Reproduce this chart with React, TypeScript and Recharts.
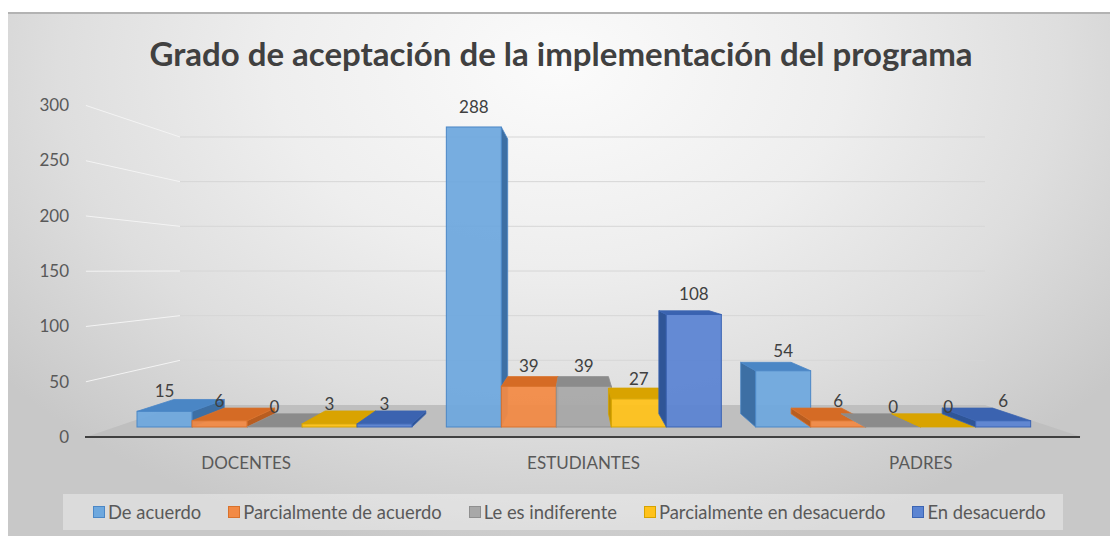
import {
  BarChart,
  Bar,
  XAxis,
  YAxis,
  CartesianGrid,
  LabelList,
  Legend,
} from "recharts";

const categories = ["DOCENTES", "ESTUDIANTES", "PADRES"];
const deAcuerdo = [15, 288, 54];
const parcialmenteDeAcuerdo = [6, 39, 6];
const indiferente = [0, 39, 0];
const parcialmenteEnDesacuerdo = [3, 27, 0];
const enDesacuerdo = [3, 108, 6];
const yTicks = [0, 50, 100, 150, 200, 250, 300];

const FONT = "Lato, 'Noto Sans', sans-serif";
const TEXT = "#595959";

const SERIES = [
  { key: "deAcuerdo", name: "De acuerdo", values: deAcuerdo, front: "#6ea8de", top: "#4a86c5", side: "#3d6fa4", stroke: "#4b87c6" },
  { key: "parcAcuerdo", name: "Parcialmente de acuerdo", values: parcialmenteDeAcuerdo, front: "#f28a45", top: "#d56b25", side: "#b85d20", stroke: "#d9722c" },
  { key: "indiferente", name: "Le es indiferente", values: indiferente, front: "#a8a8a8", top: "#8b8b8b", side: "#7a7a7a", stroke: "#8f8f8f" },
  { key: "parcDesacuerdo", name: "Parcialmente en desacuerdo", values: parcialmenteEnDesacuerdo, front: "#ffc21c", top: "#d9a300", side: "#bf9000", stroke: "#d6a300" },
  { key: "desacuerdo", name: "En desacuerdo", values: enDesacuerdo, front: "#5b84d2", top: "#3b63b0", side: "#2f5597", stroke: "#3b64b3" },
];

const data = categories.map((name, i) => {
  const row: Record<string, string | number> = { name };
  SERIES.forEach((s) => (row[s.key] = s.values[i]));
  return row;
});

// perspective: vanishing point, depth of a box's back face, and front/back wall ratio
const VP = { x: 577, y: 270 };
const DEPTH = 0.916;
const WALL = 1.237;

const pts = (arr: number[][]) => arr.map((p) => p.join(",")).join(" ");

function Box3D(props: any) {
  const { x, y, width, height, s } = props;
  if (x == null || y == null) return null;
  const x0 = x;
  const x1 = x + width;
  const yt = y;
  const yb = y + height;
  const bx = (v: number) => VP.x + DEPTH * (v - VP.x);
  const by = (v: number) => VP.y + DEPTH * (v - VP.y);
  const bx0 = bx(x0);
  const bx1 = bx(x1);
  const byt = by(yt);
  const byb = by(yb);
  return (
    <g>
      {bx1 > x1 && (
        <polygon points={pts([[x1, yt], [bx1, byt], [bx1, byb], [x1, yb]])} fill={s.side} stroke={s.stroke} strokeWidth={0.8} />
      )}
      {bx0 < x0 && (
        <polygon points={pts([[x0, yt], [bx0, byt], [bx0, byb], [x0, yb]])} fill={s.side} stroke={s.stroke} strokeWidth={0.8} />
      )}
      {byt < yt && (
        <polygon points={pts([[x0, yt], [x1, yt], [bx1, byt], [bx0, byt]])} fill={s.top} stroke={s.stroke} strokeWidth={0.8} />
      )}
      <rect x={x0} y={yt} width={width} height={Math.max(height, 0)} fill={s.front} fillOpacity={0.94} stroke={s.stroke} strokeWidth={1} />
    </g>
  );
}

// back-wall gridline, its side-wall continuation, and the floor under the lowest one
function WallLine(props: any) {
  const { x1, y1, x2, index } = props;
  if (x1 == null || y1 == null) return null;
  const fx = (v: number) => VP.x + (v - VP.x) * WALL;
  const fy = (v: number) => VP.y + (v - VP.y) * WALL;
  if (index === 0) {
    return (
      <polygon points={pts([[fx(x1), fy(y1)], [fx(x2), fy(y1)], [x2, y1], [x1, y1]])} fill="#bfbfbf" />
    );
  }
  return (
    <g>
      <line x1={fx(x1)} y1={fy(y1)} x2={x1} y2={y1} stroke="#f4f4f4" strokeWidth={1} />
      <line x1={x1} y1={y1} x2={x2} y2={y1} stroke="#d6d6d6" strokeWidth={1} />
    </g>
  );
}

// category labels sit on the front plane, bars a little deeper
function CatTick(props: any) {
  const { x, y, payload } = props;
  const fx = VP.x + (x - VP.x) / 0.917;
  return (
    <text x={fx} y={y} dy="0.71em" textAnchor="middle" fill={TEXT} fontSize={17} fontFamily={FONT}>
      {payload.value}
    </text>
  );
}

function LegendBox() {
  return (
    <div
      style={{
        display: "flex",
        alignItems: "center",
        justifyContent: "flex-start",
        boxSizing: "border-box",
        paddingLeft: 30,
        height: 36,
        width: 1000,
        background: "rgba(255,255,255,0.35)",
        fontFamily: FONT,
        fontSize: 18.4,
        color: TEXT,
        whiteSpace: "nowrap",
      }}
    >
      {SERIES.map((s, i) => (
        <span key={s.key} style={{ display: "flex", alignItems: "center", marginLeft: i ? 27 : 0 }}>
          <span
            style={{
              display: "inline-block",
              width: 10,
              height: 10,
              background: s.front,
              border: `1.5px solid ${s.stroke}`,
              marginRight: 3,
            }}
          />
          {s.name}
        </span>
      ))}
    </div>
  );
}

export default function App() {
  return (
    <div style={{ position: "absolute", left: 0, top: 0, width: 1110, height: 536, background: "#fff" }}>
      <div
        style={{
          position: "absolute",
          left: 8,
          top: 12,
          width: 1102,
          height: 524,
          borderTop: "2px solid #b3b3b3",
          boxSizing: "border-box",
          background:
            "radial-gradient(ellipse 65% 95% at 50% 10%, #fbfbfb 0%, #eeeeee 40%, #dedede 70%, #c8c8c8 100%)",
        }}
      />
      <div
        style={{
          position: "absolute",
          left: 0,
          top: 33,
          width: 1122,
          textAlign: "center",
          fontFamily: FONT,
          fontWeight: 700,
          fontSize: 33,
          color: "#404040",
        }}
      >
        Grado de aceptación de la implementación del programa
      </div>
      <div style={{ position: "absolute", left: 0, top: 0 }}>
        <BarChart
          width={1110}
          height={536}
          data={data}
          margin={{ top: 105, right: 30, bottom: 6, left: 25 }}
          barCategoryGap={18}
          barGap={0}
        >
          <XAxis
            dataKey="name"
            interval={0}
            padding={{ left: 34, right: 33 }}
            axisLine={{ stroke: "#404040", strokeWidth: 2 }}
            tickLine={false}
            tickSize={0}
            tickMargin={20}
            height={57}
            tick={<CatTick />}
          />
          <YAxis
            yAxisId="val"
            type="number"
            domain={[0, 300]}
            allowDataOverflow
            ticks={yTicks}
            axisLine={false}
            tickLine={false}
            tickSize={0}
            tickMargin={16}
            width={60}
            tick={{ fill: TEXT, fontSize: 17, fontFamily: FONT }}
          />
          <YAxis yAxisId="bar" orientation="right" type="number" hide domain={[-9.6, 309.1]} allowDataOverflow />
          <YAxis yAxisId="grid" orientation="right" type="number" hide domain={[-35.8, 335.8]} ticks={yTicks} allowDataOverflow />
          <CartesianGrid
            yAxisId="grid"
            vertical={false}
            syncWithTicks
            x={180}
            width={805}
            horizontal={(p: any) => <WallLine key={p.key} {...p} />}
          />
          {SERIES.map((s) => (
            <Bar
              key={s.key}
              yAxisId="bar"
              dataKey={s.key}
              name={s.name}
              fill={s.front}
              isAnimationActive={false}
              shape={(p: any) => <Box3D {...p} s={s} />}
            >
              <LabelList
                dataKey={s.key}
                position="top"
                offset={14}
                fill="#404040"
                fontSize={17}
                fontFamily={FONT}
              />
            </Bar>
          ))}
          <Legend
            verticalAlign="bottom"
            content={() => <LegendBox />}
            wrapperStyle={{ left: 63, width: 1000 }}
          />
        </BarChart>
      </div>
    </div>
  );
}
